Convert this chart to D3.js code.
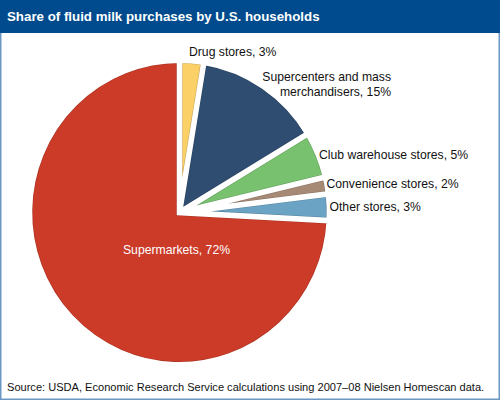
<!DOCTYPE html>
<html>
<head>
<meta charset="utf-8">
<script src="https://d3js.org/d3.v7.min.js"></script>
<style>
html, body {margin: 0; padding: 0; background: #fff;}
text {font-family: "Liberation Sans", sans-serif;}
</style>
</head>
<body>
<div id="mainDiv"></div>
<script>
let main = "#mainDiv"

// categories in clockwise order starting from 12 o'clock
let categories = ["Drug stores", "Supercenters and mass merchandisers", "Club warehouse stores", "Convenience stores", "Other stores", "Supermarkets"]
// slice sizes
let sliceShares = [2.6, 13.75, 4.9, 1.8, 2.8, 74.15]
// percentages as printed on the labels
let printedShares = [3, 15, 5, 2, 3, 72]
let title = "Share of fluid milk purchases by U.S. households"
let source = "Source: USDA, Economic Research Service calculations using 2007\u201308 Nielsen Homescan data."

const size = {width: 500, height: 400}
const center = {x: 179.5, y: 212.5}, radius = 152.3, gap = 5.6

let fills = ["#fbd066", "#2f4d70", "#78c26f", "#a68a76", "#6ba3c4", "#cc3a28"]
let edges = ["#c9a657", "#27415f", "#5f9e58", "#86705f", "#55849f", "#a83222"]

// where each label sits
let labelLayout = [
    {x: 189, y: 56, anchor: "start"},
    {x: 391, y: 81, anchor: "end"},
    {x: 319, y: 159, anchor: "start"},
    {x: 326.5, y: 188, anchor: "start"},
    {x: 329.5, y: 210.5, anchor: "start"},
    {x: 176.5, y: 254, anchor: "middle", color: "#fff"}
]

let svg = d3.select(main).append("svg")
    .attr("width", size.width)
    .attr("height", size.height)
    .style("display", "block")

svg.append("rect")
    .attr("x", 0.75)
    .attr("y", 0.75)
    .attr("width", size.width - 1.5)
    .attr("height", size.height - 1.5)
    .attr("fill", "#fff")
    .attr("stroke", "#6b97c4")
    .attr("stroke-width", 1.5)

svg.append("rect")
    .attr("width", size.width)
    .attr("height", 33)
    .attr("fill", "#004b8d")

svg.append("text")
    .attr("x", 7)
    .attr("y", 20.5)
    .attr("fill", "#fff")
    .attr("font-size", "13.3px")
    .attr("font-weight", "bold")
    .text(title)

let pie = d3.pie().sort(null).value(d => d)
let arc = d3.arc().innerRadius(0).outerRadius(radius)

let pieGroup = svg.append("g")
    .attr("transform", "translate(" + center.x + "," + center.y + ") scale(0.985,1)")

let slices = pie(sliceShares)

// the mask eats half the gap off every side of a slice, that opens the white gaps
pieGroup.append("defs")
    .selectAll("mask")
    .data(slices)
    .enter()
    .append("mask")
    .attr("id", (d, i) => "slice" + i)
    .attr("maskUnits", "userSpaceOnUse")
    .attr("x", -size.width)
    .attr("y", -size.height)
    .attr("width", size.width * 2)
    .attr("height", size.height * 2)
    .append("path")
    .attr("d", arc)
    .attr("fill", "#fff")
    .attr("stroke", "#000")
    .attr("stroke-width", gap)

// the stroke is a bit wider than the gap, what is left of it is the thin dark border
pieGroup.selectAll(".slice")
    .data(slices)
    .enter()
    .append("path")
    .attr("class", "slice")
    .attr("d", arc)
    .attr("mask", (d, i) => "url(#slice" + i + ")")
    .attr("fill", (d, i) => fills[i])
    .attr("stroke", (d, i) => edges[i])
    .attr("stroke-width", gap + 1.2)

let labels = svg.append("g")
    .attr("font-size", "12.2px")
    .attr("fill", "#111")

categories.forEach((name, i) => {
    let pos = labelLayout[i]
    let text = labels.append("text")
        .attr("text-anchor", pos.anchor)
        .attr("fill", pos.color || null)
    if (i === 1) {
        // this one wraps on two lines
        text.append("tspan").attr("x", pos.x).attr("y", pos.y).text("Supercenters and mass")
        text.append("tspan").attr("x", pos.x).attr("y", pos.y + 14.5).text("merchandisers, " + printedShares[i] + "%")
    } else {
        text.attr("x", pos.x).attr("y", pos.y).text(name + ", " + printedShares[i] + "%")
    }
})

svg.append("text")
    .attr("x", 7)
    .attr("y", 391)
    .attr("fill", "#111")
    .attr("font-size", "11.07px")
    .text(source)
</script>
</body>
</html>
